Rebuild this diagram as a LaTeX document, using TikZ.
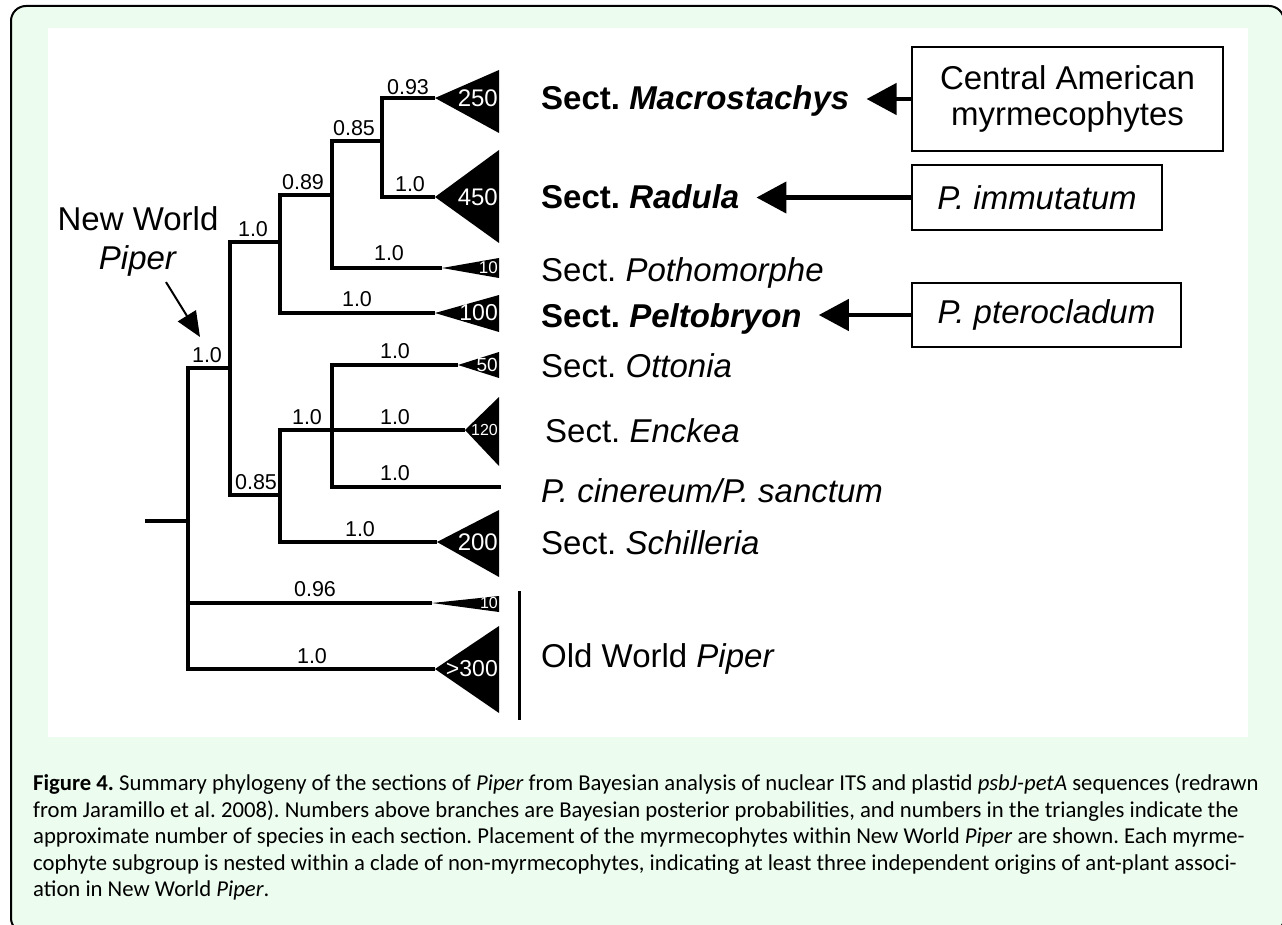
\documentclass[tikz,border=0pt]{standalone}
\usepackage{fontspec}
\setmainfont{Liberation Sans}
\newfontfamily\capfont{Carlito}
\usetikzlibrary{arrows.meta}
\frenchspacing

\definecolor{pagegreen}{RGB}{236,252,238}

\tikzset{
  branch/.style={line width=3.5pt},
  taxon/.style={anchor=base west, inner sep=0pt, font=\fontsize{33}{38}\selectfont},
  pp/.style={inner sep=0pt, font=\fontsize{21.5}{24}\selectfont},
  count/.style={anchor=east, inner sep=0pt, text=white},
  myrmbox/.style={draw, line width=2pt, align=center, inner sep=0pt, font=\fontsize{33}{36}\selectfont},
  pointer/.style={line width=4.5pt, -{Triangle[length=30pt,width=31pt]}, shorten >=17pt},
}

\begin{document}
\begin{tikzpicture}[x=1pt, y=-1pt]
    \useasboundingbox (0,0) rectangle (1282,925);
    \clip (0,0) rectangle (1282,925);
    % page and panel
    \draw[fill=pagegreen, line width=2pt, rounded corners=15pt] (11,6) rectangle (1284,933);
    \fill[white] (48,28) rectangle (1248,737);

    % Define nodes
    \coordinate (stub) at (145,521);
    \coordinate (root) at (188,521);
    \coordinate (nw)   at (230,368);
    \coordinate (ca)   at (280,242);
    \coordinate (cc)   at (332,195);
    \coordinate (cd)   at (382,141);
    \coordinate (cb)   at (280,495);
    \coordinate (ce)   at (332,430);
    \coordinate (rim)  at (498,0);

    \coordinate (mac)  at (435,98);
    \coordinate (rad)  at (435,197);
    \coordinate (poth) at (442,268);
    \coordinate (pelt) at (435,313);
    \coordinate (ott)  at (458,365);
    \coordinate (enc)  at (465,430);
    \coordinate (cin)  at (501,487);
    \coordinate (sch)  at (437,542);
    \coordinate (owa)  at (432,603);
    \coordinate (owb)  at (435,669);

    % Connect nodes
    \draw[branch] (stub) -- (root);
    \draw[branch] (root) |- (nw);
    \draw[branch] (root) |- (owa);
    \draw[branch] (root) |- (owb);
    \draw[branch] (nw) |- (ca);
    \draw[branch] (nw) |- (cb);
    \draw[branch] (ca) |- (cc);
    \draw[branch] (ca) |- (pelt);
    \draw[branch] (cc) |- (cd);
    \draw[branch] (cc) |- (poth);
    \draw[branch] (cd) |- (mac);
    \draw[branch] (cd) |- (rad);
    \draw[branch] (cb) |- (ce);
    \draw[branch] (cb) |- (sch);
    \draw[branch] (ce) |- (ott);
    \draw[branch] (ce) |- (enc);
    \draw[branch] (ce) |- (cin);

    % collapsed clades
    \foreach \tip/\hi/\lo/\cnt/\fs in {mac/70/133/250/24, rad/150/243/450/24, poth/258/278/10/17,
        pelt/295/332/100/23, ott/352/378/50/19, enc/397/466/120/16, sch/510/577/200/24,
        owa/596/612/10/16, owb/626/713/{>300}/23}{
      \fill (\tip) -- (499,\hi) -- (499,\lo) -- cycle;
      \node[count, font=\fontsize{\fs}{\fs}\selectfont] (n\tip) at (\tip -| rim) {\cnt};
    }

    % posterior probabilities
    \foreach \px/\py/\val [count=\i] in {408/87/0.93, 354/128/0.85, 303/182/0.89, 410/184/1.0,
        253/229/1.0, 389/253/1.0, 357/299/1.0, 207/355/1.0, 395/351/1.0, 307/417/1.0,
        395/417/1.0, 395/473/1.0, 256/482/0.85, 360/529/1.0, 315/589/0.96, 312/656/1.0}{
      \node[pp] (pp\i) at (\px,\py) {\val};
    }

    % taxa
    \node[taxon] (lmac)  at (541,110) {\textbf{Sect. \textit{Macrostachys}}};
    \node[taxon] (lrad)  at (541,209) {\textbf{Sect. \textit{Radula}}};
    \node[taxon] (lpoth) at (541,282) {Sect. \textit{Pothomorphe}};
    \node[taxon] (lpelt) at (541,327) {\textbf{Sect. \textit{Peltobryon}}};
    \node[taxon] (lott)  at (541,377) {Sect. \textit{Ottonia}};
    \node[taxon] (lenc)  at (545,442) {Sect. \textit{Enckea}};
    \node[taxon] (lcin)  at (541,502) {\textit{P. cinereum/P. sanctum}};
    \node[taxon] (lsch)  at (541,554) {Sect. \textit{Schilleria}};
    \node[taxon] (low)   at (541,667) {Old World \textit{Piper}};
    \coordinate (owtop) at (519,591);
    \coordinate (owbot) at (519,720);
    \draw[line width=3pt] (owtop) -- (owbot);

    % New World pointer
    \node[align=center, inner sep=0pt, font=\fontsize{33}{39}\selectfont] (lnw) at (138,241) {New World\\\textit{Piper}};
    \coordinate (nwtip) at (200,337);
    \draw[line width=2pt, -{Triangle[length=25pt,width=21pt]}] ([xshift=28pt, yshift=-6pt]lnw.south) -- (nwtip);

    % myrmecophyte boxes
    \node[myrmbox, minimum width=311pt, minimum height=104pt] (bca) at (1067.5,99) {Central American\\myrmecophytes};
    \node[myrmbox, minimum width=250pt, minimum height=65pt] (bimm) at (1037,197.5) {\textit{P. immutatum}};
    \node[myrmbox, minimum width=269pt, minimum height=64pt] (bpt) at (1046.5,315) {\textit{P. pterocladum}};
    \draw[pointer] (bca.west) -- (bca.west -| lmac.east);
    \draw[pointer] (bimm.west) -- (bimm.west -| lrad.east);
    \draw[pointer] (bpt.west) -- (bpt.west -| lpelt.east);

    % caption
    \node[anchor=north west, align=left, inner sep=0pt, font=\capfont\fontsize{22.7}{26.5}\selectfont] (cap) at (33,774)
      {\textbf{Figure 4.} Summary phylogeny of the sections of \textit{Piper} from Bayesian analysis of nuclear ITS and plastid \textit{psbJ-petA} sequences (redrawn\\
       from Jaramillo et al. 2008). Numbers above branches are Bayesian posterior probabilities, and numbers in the triangles indicate the\\
       approximate number of species in each section. Placement of the myrmecophytes within New World \textit{Piper} are shown. Each myrme-\\
       cophyte subgroup is nested within a clade of non-myrmecophytes, indicating at least three independent origins of ant-plant associ-\\
       ation in New World \textit{Piper}.};
\end{tikzpicture}
\end{document}
